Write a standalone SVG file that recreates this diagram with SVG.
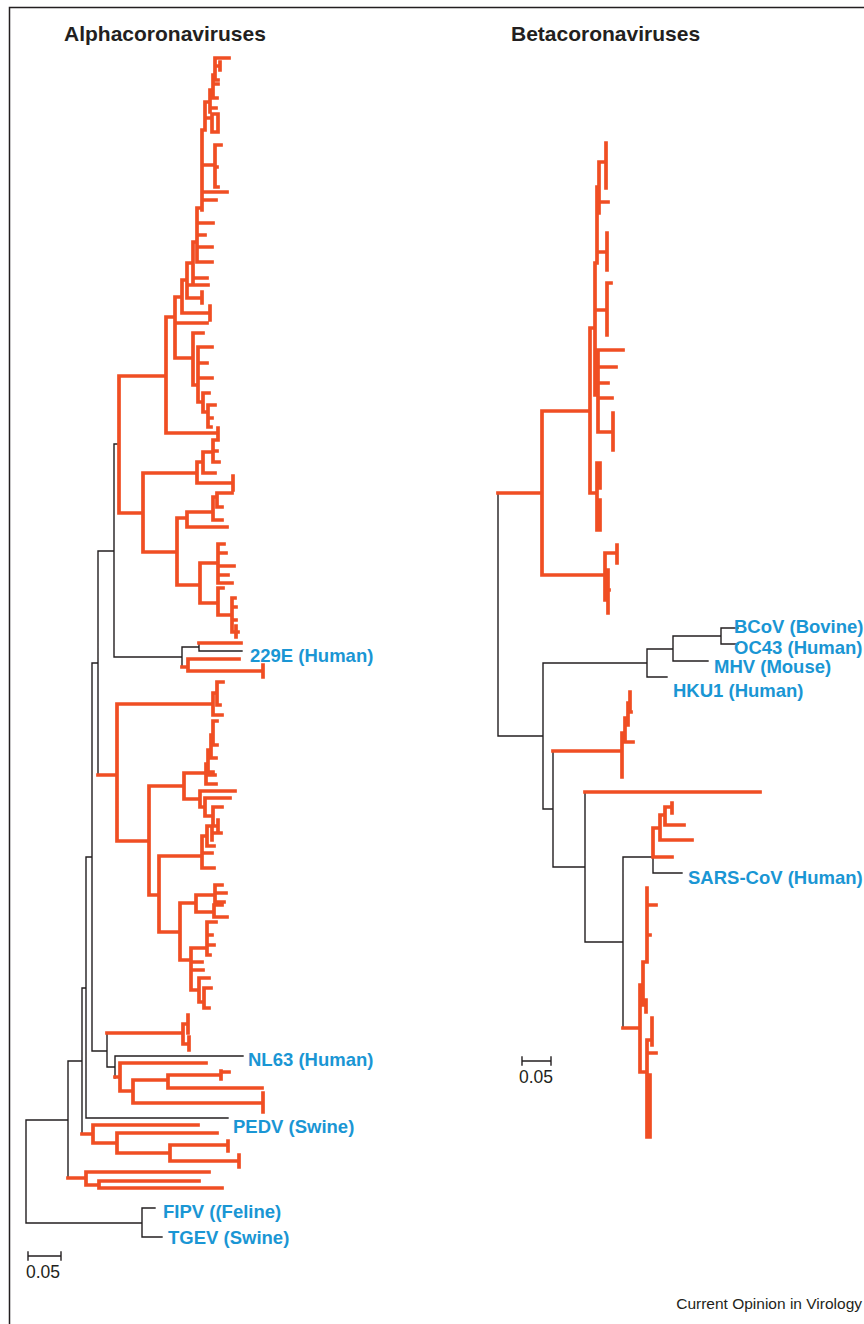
<svg xmlns="http://www.w3.org/2000/svg" width="864" height="1324" viewBox="0 0 864 1324">
<style>
.bk{fill:none;stroke:#231f20;stroke-width:1.4;stroke-linecap:square}
.or{fill:none;stroke:#f04e23;stroke-width:3.7;stroke-linecap:square;stroke-linejoin:miter}
.ttl{font-family:"Liberation Sans",Arial,sans-serif;font-weight:bold;font-size:21px;fill:#231f20}
.lbl{font-family:"Liberation Sans",Arial,sans-serif;font-weight:bold;font-size:18.5px;fill:#1a96d4}
.sc{font-family:"Liberation Sans",Arial,sans-serif;font-size:17.5px;fill:#231f20}
.cr{font-family:"Liberation Sans",Arial,sans-serif;font-size:15.5px;fill:#231f20}
</style>
<rect width="864" height="1324" fill="#ffffff"/>
<path d="M9.5,1324 V7.5 H864" fill="none" stroke="#231f20" stroke-width="1.5"/>
<g id="titles">
<text class="ttl" x="64" y="41">Alphacoronaviruses</text>
<text class="ttl" x="511" y="41">Betacoronaviruses</text>
</g>
<g id="connectors">
<!-- alpha black backbone -->
<path class="bk" d="M26,1120 V1223 M26,1223 H142 M26,1120 H68
M142,1208 V1237 M142,1208 H155 M142,1237 H162
M68,1061 V1178 M68,1061 H82
M82,988 V1134 M82,988 H86
M86,857 V1118 M86,1118 H228 M86,857 H92
M92,663 V1051 M92,1051 H107 M92,663 H98
M107,1033 V1067 M107,1067 H115
M115,1056 V1078 M115,1056 H243
M98,551 V775 M98,551 H114
M114,444 V657 M114,444 H119 M114,657 H182
M182,647 V667 M182,647 H199
M199,643 V651 M199,651 H242"/>
<!-- alpha orange clades -->
<path class="or" d="M119,376 V513 M119,376 H166 M119,513 H143
M166,317 V433 M166,433 H218 M218,428 V438 M166,317 H175
M175,297 V358 M175,323 H207 M175,358 H193 M175,297 H182
M193,333 V385 M193,333 H203 M193,385 H198 M198,347 V402 M198,347 H212 M198,363 H207 M198,378 H212 M198,402 H203 M203,393 V412 M203,393 H209 M203,412 H208 M208,405 V427 M208,405 H215 M208,418 H212 M208,427 H211
M182,280 V313 M182,313 H210 M210,306 V320
M182,280 H187 M187,263 V298 M187,298 H202 M202,292 V303 M187,285 H208
M187,263 H193 M193,242 V283 M193,278 H207 M193,242 H197
M197,208 V262 M197,262 H212 M197,247 H212 M197,235 H205 M197,223 H213 M197,208 H202
M202,130 V210 M202,192 H227 M202,200 H216 M202,165 H215 M215,145 V187 M215,145 H221 M215,187 H218 M215,167 H217
M202,130 H205 M205,102 V130 M205,118 H212 M212,114 V132 M212,114 H218 M212,132 H218 M218,117 V130
M205,102 H210 M210,90 V112 M210,108 H216 M210,90 H213 M213,75 V98 M213,98 H217 M213,84 H218 M213,75 H215 M215,58 V80 M215,58 H229 M215,66 H220 M220,62 V70 M215,80 H218
M143,473 V552 M143,473 H197 M197,462 V483 M197,483 H233 M233,476 V490 M197,462 H203 M203,452 V473 M203,473 H215 M203,452 H213 M213,440 V462 M213,440 H218 M213,451 H217 M213,462 H219
M143,552 H177 M177,518 V585 M177,518 H187 M187,512 V527 M187,527 H227 M187,512 H213 M213,497 V520 M213,520 H222 M213,497 H217 M217,493 V507 M217,493 H232 M217,507 H222
M177,585 H200 M200,563 V603 M200,563 H218 M218,544 V583 M218,544 H224 M218,553 H226 M218,566 H234 M218,575 H228 M218,583 H232
M200,603 H218 M218,588 V615 M218,588 H223 M218,615 H232 M232,598 V632 M232,598 H235 M232,607 H236 M232,620 H236 M232,632 H238 M236,626 V637
M199,643 H241
M182,667 H188 M188,659 V671 M188,659 H239 M188,671 H263 M263,665 V677
M98,775 H117 M117,704 V841 M117,704 H213 M117,841 H149
M213,693 V715 M213,715 H222 M213,693 H217 M217,682 V705 M217,682 H223 M217,705 H220
M149,786 V895 M149,786 H184 M149,895 H159
M184,773 V799 M184,773 H206 M206,764 V784 M206,784 H216 M206,775 H215 M206,764 H208 M208,750 V772 M208,772 H213 M208,750 H211 M211,735 V758 M211,758 H216 M211,735 H213 M213,721 V745 M213,721 H217 M213,745 H217
M184,799 H200 M200,791 V807 M200,791 H235 M200,807 H205 M205,798 V816 M205,798 H230 M205,816 H213 M213,807 V826 M213,807 H222 M213,826 H218 M218,820 V832
M159,856 V932 M159,856 H202 M202,836 V868 M202,868 H214 M202,853 H212 M202,836 H207 M207,826 V846 M207,846 H214 M207,826 H212 M212,828 V840 M212,833 H221
M159,932 H180 M180,903 V960 M180,903 H196 M196,895 V912 M196,895 H215 M215,885 V902 M215,885 H222 M215,893 H226 M215,902 H224 M196,912 H214 M214,905 V917 M214,905 H222 M214,917 H227
M180,960 H191 M191,948 V990 M191,948 H207 M207,922 V955 M207,922 H216 M207,935 H212 M207,945 H214 M207,955 H210 M191,962 H202 M191,970 H203 M191,990 H199 M199,978 V1002 M199,978 H209 M199,1002 H204 M204,988 V1008 M204,988 H211 M204,1008 H209
M107,1033 H183 M183,1024 V1044 M183,1024 H188 M183,1044 H189 M188,1015 V1033 M189,1037 V1050
M115,1077 H120 M120,1063 V1091 M120,1063 H206 M120,1091 H133 M133,1080 V1103 M133,1080 H168 M168,1075 V1088 M168,1075 H221 M221,1071 V1079 M221,1072 H229 M168,1088 H262 M133,1103 H263 M263,1093 V1112
M82,1134 H93 M93,1125 V1143 M93,1125 H198 M93,1143 H117 M117,1133 V1153 M117,1133 H217 M117,1153 H170 M170,1145 V1161 M170,1145 H228 M228,1141 V1151 M170,1161 H239 M239,1155 V1167
M68,1178 H86 M86,1172 V1185 M86,1172 H209 M86,1185 H99 M99,1181 V1188 M99,1181 H199 M99,1188 H222"/>
<!-- beta black backbone -->
<path class="bk" d="M498,493 V736 M498,736 H543
M543,663 V809 M543,663 H647 M543,809 H553
M647,649 V677 M647,677 H667 M647,649 H673
M673,636 V661 M673,661 H708 M673,636 H721
M721,628 V644 M721,628 H738 M721,644 H738
M553,751 V867 M553,867 H585
M585,792 V942 M585,942 H623
M623,857 V1028 M623,857 H653
M653,857 V873 M653,873 H682"/>
<!-- beta orange clades -->
<path class="or" d="M498,493 H542 M542,411 V575 M542,411 H590 M542,575 H605
M605,553 V600 M605,553 H617 M617,545 V563 M605,578 H608 M608,570 V613 M605,590 H609
M590,328 V493 M590,328 H595 M590,493 H597
M597,463 V530 M597,463 H600 M600,463 V488 M597,505 H600 M600,500 V530
M595,263 V395 M595,310 H607 M607,283 V335 M607,283 H611 M595,395 H598 M598,350 V432 M598,350 H623 M598,367 H616 M598,383 H608 M598,398 H612 M598,432 H613 M613,413 V450
M595,263 H597 M597,187 V263 M597,252 H607 M607,233 V270 M597,202 H608 M597,187 H599 M599,162 V213 M599,162 H606 M606,143 V188
M553,751 H622 M622,733 V777 M622,742 H633 M622,733 H625 M625,718 V740 M625,718 H628 M628,703 V725 M628,712 H631 M628,703 H630 M630,692 V710
M585,792 H760
M653,828 V857 M653,857 H672 M653,828 H660 M660,815 V840 M660,840 H692 M660,815 H665 M665,807 V825 M665,807 H672 M672,803 V813 M665,825 H684
M623,1028 H640 M640,985 V1072 M640,985 H643 M643,962 V1005 M643,962 H647 M647,888 V962 M647,905 H656 M647,935 H650 M643,1005 H646 M646,1000 V1012 M640,1072 H647 M647,1040 V1137 M647,1040 H652 M652,1018 V1045 M647,1053 H656 M647,1090 H650 M650,1075 V1137"/>
<!-- scale bars -->
<path class="bk" d="M28,1256 H61 M28,1252 V1260 M61,1252 V1260 M522,1061 H551 M522,1057 V1065 M551,1057 V1065"/>
</g>
<g id="node-229E"><text class="lbl" x="250" y="662">229E (Human)</text></g>
<g id="node-NL63"><text class="lbl" x="248" y="1066">NL63 (Human)</text></g>
<g id="node-PEDV"><text class="lbl" x="233" y="1133">PEDV (Swine)</text></g>
<g id="node-FIPV"><text class="lbl" x="163" y="1218">FIPV ((Feline)</text></g>
<g id="node-TGEV"><text class="lbl" x="168" y="1244">TGEV (Swine)</text></g>
<g id="node-BCoV"><text class="lbl" x="734" y="633">BCoV (Bovine)</text></g>
<g id="node-OC43"><text class="lbl" x="734" y="654">OC43 (Human)</text></g>
<g id="node-MHV"><text class="lbl" x="714" y="673">MHV (Mouse)</text></g>
<g id="node-HKU1"><text class="lbl" x="673" y="697">HKU1 (Human)</text></g>
<g id="node-SARS"><text class="lbl" x="688" y="884">SARS-CoV (Human)</text></g>
<g id="scale-labels">
<text class="sc" x="26" y="1278">0.05</text>
<text class="sc" x="519" y="1083">0.05</text>
</g>
<text class="cr" x="862" y="1309" text-anchor="end">Current Opinion in Virology</text>
</svg>
